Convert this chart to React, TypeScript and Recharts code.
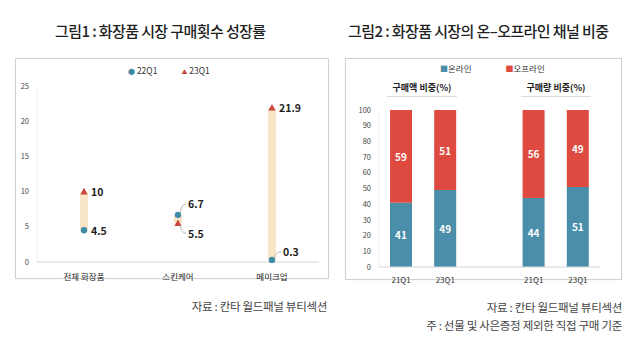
import React from 'react';
import {
  ComposedChart,
  BarChart,
  Bar,
  Line,
  XAxis,
  YAxis,
  LabelList,
} from 'recharts';

// 그림1 data
const segments = ['전체 화장품', '스킨케어', '메이크업'];
const q22Values = [4.5, 6.7, 0.3];
const q23Values = [10, 5.5, 21.9];
const growthTicks = [0, 5, 10, 15, 20, 25];

// 그림2 data (blank slot in the middle separates the two groups)
const periods = ['21Q1', '23Q1', '', '21Q1', '23Q1'];
const onlineShare = [41, 49, null, 44, 51];
const offlineShare = [59, 51, null, 56, 49];
const shareTicks = [0, 10, 20, 30, 40, 50, 60, 70, 80, 90, 100];

const FONT = '"Noto Sans CJK KR", "Noto Sans", sans-serif';
const TEAL = '#3f8aa6';
const RED = '#c8463b';
const ONLINE = '#4a8ea9';
const OFFLINE = '#de4a40';

const growthData = segments.map((name, i) => ({
  name,
  q22: q22Values[i],
  q23: q23Values[i],
  range: [Math.min(q22Values[i], q23Values[i]), Math.max(q22Values[i], q23Values[i])],
}));

const shareData = periods.map((name, i) => ({
  name,
  online: onlineShare[i],
  offline: offlineShare[i],
}));

// label placement per point: offset and whether a leader line is drawn
const place22 = [
  { dx: 7, dy: 0, lead: false },
  { dx: 10, dy: -11, lead: true },
  { dx: 11, dy: -8, lead: true },
];
const place23 = [
  { dx: 7, dy: 0, lead: false },
  { dx: 10, dy: 10, lead: true },
  { dx: 7, dy: 0, lead: false },
];

const makeLabel = (places: any[]) => (props: any) => {
  const { x, y, value, index } = props;
  const p = places[index];
  const tx = x + p.dx;
  const ty = y + p.dy;
  return (
    <g key={`lbl-${index}`}>
      {p.lead && (
        <path
          d={`M${x + 2},${y + (p.dy < 0 ? -2 : 2)} Q${x + 4},${ty} ${tx - 2},${ty}`}
          stroke="#b5b5b5"
          fill="none"
          strokeWidth={1}
        />
      )}
      <text
        x={tx}
        y={ty}
        dominantBaseline="central"
        fontSize={10.5}
        fontWeight={700}
        fill="#1e1e1e"
        fontFamily={FONT}
      >
        {value}
      </text>
    </g>
  );
};

const CircleDot = (props: any) => {
  const { cx, cy, index } = props;
  return <circle key={`c-${index}`} cx={cx} cy={cy} r={3.2} fill={TEAL} />;
};

const TriDot = (props: any) => {
  const { cx, cy, index } = props;
  return (
    <polygon
      key={`t-${index}`}
      points={`${cx},${cy - 3.8} ${cx - 3.6},${cy + 2.8} ${cx + 3.6},${cy + 2.8}`}
      fill={RED}
    />
  );
};

const ShareLabel = (props: any) => {
  const { x, y, width, height, value } = props;
  if (value == null) return null;
  return (
    <text
      x={x + width / 2}
      y={y + height / 2}
      textAnchor="middle"
      dominantBaseline="central"
      fill="#fff"
      fontSize={10}
      fontWeight={700}
      fontFamily={FONT}
    >
      {value}
    </text>
  );
};

const boxStyle: React.CSSProperties = {
  position: 'absolute',
  border: '1px solid #d2d2d2',
  boxShadow: '0 0 1px #e0e0e0',
  boxSizing: 'border-box',
};

const titleStyle: React.CSSProperties = {
  position: 'absolute',
  top: 20,
  fontSize: 15,
  fontWeight: 500,
  color: '#1f1f1f',
  letterSpacing: -0.6,
  whiteSpace: 'nowrap',
};

const noteStyle: React.CSSProperties = {
  position: 'absolute',
  fontSize: 11.5,
  color: '#444',
  whiteSpace: 'nowrap',
  letterSpacing: -0.3,
  textAlign: 'right',
};

const subTitleStyle: React.CSSProperties = {
  position: 'absolute',
  top: 81,
  width: 70,
  fontSize: 9,
  fontWeight: 700,
  color: '#222',
  textAlign: 'center',
  borderBottom: '1px solid #dcdcdc',
  paddingBottom: 2,
};

export default function App() {
  return (
    <div
      style={{
        position: 'absolute',
        left: 0,
        top: 0,
        width: 640,
        height: 358,
        background: '#fff',
        fontFamily: FONT,
        overflow: 'hidden',
      }}
    >
      {/* 그림1 */}
      <div style={{ ...titleStyle, left: 55 }}>그림1 : 화장품 시장 구매횟수 성장률</div>
      <div style={{ ...boxStyle, left: 15, top: 58, width: 314, height: 221 }} />
      <div
        style={{
          position: 'absolute',
          left: 128,
          top: 64,
          fontSize: 8.5,
          color: '#333',
          display: 'flex',
          gap: 24,
        }}
      >
        <span>
          <span style={{ color: TEAL, fontSize: 7 }}>●</span> 22Q1
        </span>
        <span>
          <span style={{ color: RED, fontSize: 6 }}>▲</span> 23Q1
        </span>
      </div>
      <div style={{ position: 'absolute', left: 15, top: 59 }}>
        <ComposedChart
          width={314}
          height={228}
          data={growthData}
          margin={{ top: 27, right: 10, bottom: 0, left: 0 }}
        >
          <XAxis
            dataKey="name"
            axisLine={{ stroke: '#d6d6d6' }}
            tickLine={false}
            tick={{ fontSize: 8.5, fill: '#222', fontFamily: FONT }}
            tickMargin={6}
            height={25}
          />
          <YAxis
            domain={[0, 25]}
            ticks={growthTicks}
            axisLine={{ stroke: '#eeeeee' }}
            tickLine={false}
            tick={{ fontSize: 7.5, fill: '#444', fontFamily: FONT }}
            width={22}
          />
          <Bar dataKey="range" barSize={8} fill="#f8e6c6" isAnimationActive={false} />
          <Line
            dataKey="q22"
            stroke="none"
            dot={CircleDot}
            activeDot={false}
            isAnimationActive={false}
          >
            <LabelList dataKey="q22" content={makeLabel(place22)} />
          </Line>
          <Line
            dataKey="q23"
            stroke="none"
            dot={TriDot}
            activeDot={false}
            isAnimationActive={false}
          >
            <LabelList dataKey="q23" content={makeLabel(place23)} />
          </Line>
        </ComposedChart>
      </div>
      <div style={{ ...noteStyle, right: 640 - 327, top: 298 }}>자료 : 칸타 월드패널 뷰티섹션</div>

      {/* 그림2 */}
      <div style={{ ...titleStyle, left: 348 }}>그림2 : 화장품 시장의 온–오프라인 채널 비중</div>
      <div style={{ ...boxStyle, left: 345, top: 58, width: 277, height: 222 }} />
      <div
        style={{
          position: 'absolute',
          left: 440,
          top: 62,
          fontSize: 8.5,
          color: '#333',
          display: 'flex',
          gap: 34,
        }}
      >
        <span>
          <span style={{ color: ONLINE, fontSize: 8 }}>■</span>온라인
        </span>
        <span>
          <span style={{ color: OFFLINE, fontSize: 8 }}>■</span>오프라인
        </span>
      </div>
      <div style={{ ...subTitleStyle, left: 387 }}>구매액 비중(%)</div>
      <div style={{ ...subTitleStyle, left: 521 }}>구매량 비중(%)</div>
      <div style={{ position: 'absolute', left: 345, top: 59 }}>
        <BarChart
          width={276}
          height={232}
          data={shareData}
          margin={{ top: 51, right: 21, bottom: 0, left: 0 }}
        >
          <XAxis
            dataKey="name"
            axisLine={{ stroke: '#d6d6d6' }}
            tickLine={false}
            tick={{ fontSize: 8, fill: '#333', fontFamily: FONT }}
            tickMargin={4}
            height={24}
          />
          <YAxis
            domain={[0, 100]}
            ticks={shareTicks}
            axisLine={{ stroke: '#eeeeee' }}
            tickLine={false}
            tick={{ fontSize: 7.5, fill: '#444', fontFamily: FONT }}
            width={34}
            interval={0}
          />
          <Bar dataKey="online" stackId="s" fill={ONLINE} barSize={22} isAnimationActive={false}>
            <LabelList dataKey="online" content={ShareLabel} />
          </Bar>
          <Bar dataKey="offline" stackId="s" fill={OFFLINE} barSize={22} isAnimationActive={false}>
            <LabelList dataKey="offline" content={ShareLabel} />
          </Bar>
        </BarChart>
      </div>
      <div style={{ ...noteStyle, right: 640 - 622, top: 298, lineHeight: '18px' }}>
        자료 : 칸타 월드패널 뷰티섹션
        <br />주 : 선물 및 사은증정 제외한 직접 구매 기준
      </div>
    </div>
  );
}
